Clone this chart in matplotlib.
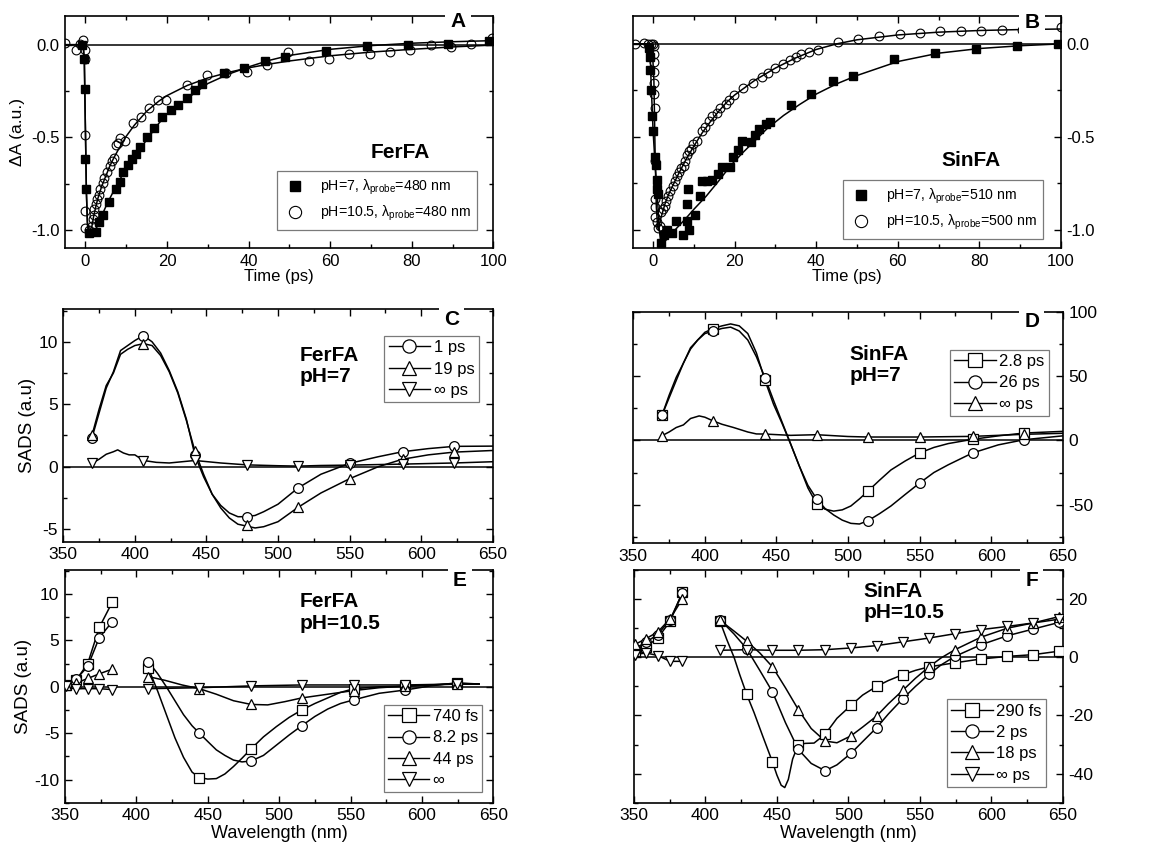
import matplotlib
matplotlib.use("Agg")
import matplotlib.pyplot as plt
from matplotlib.lines import Line2D
from matplotlib.ticker import MultipleLocator, FormatStrFormatter

plt.rcParams['font.family'] = ['Liberation Sans', 'DejaVu Sans']
plt.rcParams['mathtext.fontset'] = 'custom'
plt.rcParams['mathtext.rm'] = 'Liberation Sans'
plt.rcParams['mathtext.it'] = 'Liberation Sans:italic'
plt.rcParams['axes.unicode_minus'] = False

# ---------------- Panel A data (FerFA kinetics) ----------------
tA7 = [-0.8, -0.3, -0.15, 0.0, 0.1, 1.0, 2.6, 3.4, 4.4, 5.9, 7.4, 8.4, 9.3, 10.4, 11.5, 12.4, 13.4,
       15.0, 16.9, 18.9, 20.9, 22.8, 24.8, 26.8, 28.7, 34.0, 38.9, 44.0, 49.0, 59.0, 69.0, 79.0, 89.0, 99.0]
yA7 = [0.0, -0.08, -0.24, -0.62, -0.78, -1.02, -1.01, -0.96, -0.92, -0.85, -0.78, -0.74, -0.69, -0.65,
       -0.62, -0.59, -0.555, -0.50, -0.45, -0.39, -0.355, -0.325, -0.29, -0.245, -0.215, -0.155, -0.125,
       -0.09, -0.065, -0.035, -0.005, 0.0, 0.005, 0.02]
tA10 = [-5.0, -2.4, -1.3, -0.6, -0.1, 0.0, 0.0, 0.0, 0.0, 0.9, 1.6, 1.8, 2.0, 2.2, 2.6, 2.9, 3.3, 3.6,
        4.2, 4.6, 5.3, 6.0, 6.4, 7.0, 7.5, 8.0, 8.6, 9.7, 11.7, 13.7, 15.6, 17.8, 19.8, 24.8, 29.7,
        34.5, 39.7, 44.6, 49.7, 54.7, 59.7, 64.6, 69.7, 74.6, 79.7, 84.7, 89.7, 94.6, 99.6]
yA10 = [0.01, -0.027, 0.005, 0.023, -0.03, -0.075, -0.49, -0.90, -0.99, -1.0, -0.98, -0.94, -0.92,
        -0.89, -0.86, -0.835, -0.81, -0.78, -0.745, -0.72, -0.69, -0.655, -0.63, -0.61, -0.54, -0.53,
        -0.505, -0.52, -0.425, -0.39, -0.34, -0.30, -0.30, -0.22, -0.165, -0.153, -0.145, -0.11, -0.04,
        -0.09, -0.08, -0.052, -0.052, -0.04, -0.027, -0.004, -0.013, 0.005, 0.038]
tA7_fit = [-5, -1, -0.5, -0.25, 0, 0.25, 0.5, 0.8, 1.2, 2, 3, 4, 5, 6, 8, 10, 12, 15, 18, 20, 25, 30,
           35, 40, 45, 50, 60, 70, 80, 90, 100]
yA7_fit = [0, 0, -0.01, -0.1, -0.45, -0.8, -0.97, -1.03, -1.035, -1.02, -0.975, -0.925, -0.875, -0.83,
           -0.745, -0.67, -0.605, -0.515, -0.425, -0.375, -0.29, -0.21, -0.16, -0.12, -0.085, -0.058,
           -0.025, -0.005, 0.008, 0.016, 0.022]
tA10_fit = [-5, -1, -0.5, -0.25, 0, 0.25, 0.5, 0.8, 1.2, 1.6, 2, 2.5, 3, 4, 5, 6, 7, 8, 10, 12, 15, 18,
            20, 25, 30, 35, 40, 45, 50, 60, 70, 80, 90, 100]
yA10_fit = [0, 0, -0.01, -0.1, -0.45, -0.8, -0.96, -1.0, -1.0, -0.98, -0.93, -0.88, -0.835, -0.765,
            -0.71, -0.655, -0.61, -0.57, -0.495, -0.435, -0.36, -0.305, -0.275, -0.22, -0.18, -0.15,
            -0.125, -0.105, -0.088, -0.06, -0.04, -0.025, -0.012, -0.002]

# ---------------- Panel B data (SinFA kinetics) ----------------
tB7 = [-0.9, -0.8, -0.75, -0.6, -0.2, 0.0, 0.4, 0.6, 0.85, 1.0, 1.3, 1.9, 2.6, 3.4, 4.7, 5.7, 7.4, 8.2,
       8.5, 8.4, 8.9, 10.2, 11.5, 11.9, 13.1, 14.5, 15.8, 17.0, 18.9, 19.7, 20.9, 21.9, 23.9, 25.0, 26.0,
       27.6, 28.7, 33.8, 38.7, 44.1, 49.1, 59.0, 69.0, 79.2, 89.2, 99.3]
yB7 = [-0.02, -0.07, -0.14, -0.25, -0.39, -0.47, -0.61, -0.65, -0.73, -0.78, -0.81, -1.07, -1.03, -1.0,
       -1.02, -0.955, -1.03, -0.86, -0.78, -0.955, -1.0, -0.92, -0.82, -0.74, -0.74, -0.73, -0.70, -0.66,
       -0.66, -0.61, -0.57, -0.52, -0.53, -0.49, -0.46, -0.43, -0.42, -0.33, -0.27, -0.20, -0.175, -0.08,
       -0.05, -0.027, -0.01, 0.0]
tB10 = [-4.5, -2.2, -1.2, -0.6, 0.0, 0.3, 0.3, 0.3, 0.3, 0.3, 0.3, 0.35, 0.4, 0.45, 0.5, 0.55, 1.0, 1.3,
        1.7, 2.0, 2.4, 2.8, 3.1, 3.7, 4.2, 5.0, 5.3, 5.9, 6.4, 6.8, 7.5, 7.9, 8.4, 8.9, 9.4, 9.9, 10.8,
        12.1, 12.8, 13.8, 14.5, 15.6, 16.5, 17.8, 18.7, 19.8, 22.0, 24.4, 26.6, 28.1, 29.9, 31.8, 33.6,
        35.0, 36.3, 38.3, 40.4, 45.3, 50.2, 55.3, 60.5, 65.4, 70.3, 75.4, 80.4, 85.5, 90.4, 100.0]
yB10 = [0.0, 0.005, 0.0, 0.0, 0.0, -0.01, -0.055, -0.10, -0.15, -0.21, -0.27, -0.345, -0.63, -0.835,
        -0.88, -0.93, -0.96, -0.99, -0.98, -0.905, -0.89, -0.87, -0.845, -0.82, -0.79, -0.765, -0.74,
        -0.71, -0.69, -0.67, -0.655, -0.63, -0.60, -0.575, -0.565, -0.54, -0.52, -0.47, -0.445, -0.415,
        -0.39, -0.37, -0.345, -0.325, -0.30, -0.275, -0.24, -0.21, -0.18, -0.155, -0.13, -0.11, -0.087,
        -0.07, -0.055, -0.045, -0.032, 0.009, 0.027, 0.04, 0.054, 0.059, 0.068, 0.071, 0.071, 0.075,
        0.075, 0.09]
tB7_fit = [-5, -0.8, -0.5, 0, 0.5, 1.0, 1.5, 2, 3, 5, 8, 10, 13, 16, 19, 22, 25, 28, 32, 36, 40, 45, 50,
           60, 70, 80, 90, 100]
yB7_fit = [0, 0, -0.2, -0.47, -0.65, -0.8, -1.0, -1.08, -1.06, -1.01, -0.94, -0.89, -0.82, -0.74, -0.655,
           -0.585, -0.52, -0.455, -0.385, -0.325, -0.27, -0.215, -0.17, -0.095, -0.05, -0.025, -0.01, 0.0]
tB10_fit = [-5, -0.5, -0.2, 0.2, 0.5, 0.8, 1.1, 1.3, 2, 3, 4, 5, 6, 8, 10, 12, 14, 16, 18, 20, 25, 30, 35,
            40, 45, 50, 60, 70, 80, 90, 100]
yB10_fit = [0, 0, -0.02, -0.2, -0.6, -0.88, -0.98, -1.0, -0.93, -0.855, -0.80, -0.755, -0.71, -0.625,
            -0.55, -0.48, -0.42, -0.365, -0.315, -0.275, -0.195, -0.13, -0.075, -0.03, 0.0, 0.022, 0.048,
            0.063, 0.072, 0.077, 0.08]

# ---------------- Panel C data (FerFA pH=7 SADS) ----------------
wlC_mk = [370, 406, 442, 478, 514, 550, 587, 623]
C1_mk = [2.3, 10.5, 0.9, -4.0, -1.7, 0.27, 1.2, 1.63]
C19_mk = [2.5, 9.85, 1.23, -4.7, -3.25, -0.96, 0.6, 1.17]
Cinf_mk = [0.27, 0.48, 0.5, 0.13, 0.05, 0.13, 0.21, 0.3]
wlC_ln = [370, 375, 380, 385, 390, 395, 400, 406, 412, 418, 424, 430, 436, 442, 448, 454, 460, 466, 472,
          478, 484, 490, 500, 514, 530, 550, 570, 587, 605, 623, 650]
C1_ln = [2.3, 4.3, 6.3, 7.6, 9.3, 9.7, 10.1, 10.5, 10.0, 9.1, 7.7, 6.0, 3.8, 0.9, -0.8, -2.2, -3.1, -3.7,
         -4.0, -4.0, -3.9, -3.6, -3.0, -1.7, -0.6, 0.27, 0.8, 1.2, 1.45, 1.63, 1.65]
C19_ln = [2.5, 4.6, 6.5, 7.5, 9.0, 9.4, 9.7, 9.85, 9.7, 8.9, 7.6, 5.9, 3.7, 1.23, -0.6, -2.2, -3.3, -4.1,
          -4.6, -4.75, -4.9, -4.8, -4.4, -3.25, -2.1, -0.96, 0.0, 0.6, 0.95, 1.17, 1.3]
wlCinf_ln = [370, 375, 380, 385, 388, 392, 396, 400, 406, 415, 424, 433, 442, 460, 478, 500, 514, 530,
             550, 587, 623, 650]
Cinf_ln = [0.27, 0.6, 1.0, 1.2, 1.35, 1.1, 0.95, 0.95, 0.5, 0.35, 0.3, 0.4, 0.5, 0.3, 0.15, 0.08, 0.05,
           0.1, 0.13, 0.21, 0.3, 0.4]

# ---------------- Panel D data (SinFA pH=7 SADS) ----------------
wlD_mk = [370, 406, 442, 478, 514, 550, 587, 623]
D28_mk = [19.4, 86.8, 46.6, -49.2, -39.4, -9.8, 0.8, 5.7]
D26_mk = [19.4, 85.0, 48.7, -45.3, -62.4, -33.2, -9.8, 0.5]
Dinf_mk = [3.6, 15.0, 4.9, 4.4, 2.6, 2.6, 3.1, 4.7]
wlD_ln = [370, 375, 380, 385, 390, 395, 400, 406, 412, 418, 424, 430, 436, 442, 448, 454, 460, 466, 472,
          478, 484, 490, 496, 502, 508, 514, 522, 530, 540, 550, 560, 570, 587, 605, 623, 650]
D28_ln = [19.4, 35, 49, 60, 72, 78, 84, 87, 89, 90.5, 89, 83, 68, 46.6, 28, 13, -3, -20, -37, -49.2,
          -53.5, -55, -54, -51, -45.5, -39.4, -31, -23, -16, -9.8, -5.5, -2.5, 0.8, 3.5, 5.7, 7.0]
D26_ln = [19.4, 33, 46.6, 60, 71, 78, 83, 85, 87, 88, 85, 78, 65, 48.7, 31, 14, -3, -20, -35, -45.3,
          -53, -58, -62, -64.5, -65, -62.4, -57, -51, -42, -33.2, -25, -19, -9.8, -3.5, 0.5, 3.5]
wlDinf_ln = [370, 375, 380, 385, 390, 396, 400, 406, 412, 420, 430, 436, 442, 460, 478, 500, 514, 550,
             587, 623, 650]
Dinf_ln = [3.6, 6.5, 10, 12, 17, 19, 18, 15, 12.5, 10, 6.5, 5, 4.9, 3.9, 4.4, 3, 2.6, 2.6, 3.1, 4.7, 5.5]

# ---------------- Panel E data (FerFA pH=10.5 SADS) ----------------
wlE_L = [350.7, 357.7, 365.9, 374.0, 383.0]
E740_L = [0.2, 0.7, 2.5, 6.4, 9.1]
E82_L = [0.2, 0.8, 2.2, 5.3, 7.0]
E44_L = [0.2, 0.4, 0.9, 1.4, 1.9]
Einf_L = [0.07, -0.2, -0.2, -0.2, -0.3]
wlE_R = [408.4, 444.1, 480.3, 515.8, 552.4, 588.1, 624.3]
E740_R = [2.0, -9.8, -6.7, -2.5, -0.2, 0.07, 0.36]
E82_R = [2.7, -5.0, -8.0, -4.2, -1.4, -0.35, 0.43]
E44_R = [1.1, -0.2, -1.9, -1.2, -0.4, 0.07, 0.29]
Einf_R = [-0.2, -0.1, 0.1, 0.2, 0.2, 0.2, 0.3]
wlE_ln = [408.4, 415, 421, 427, 433, 439, 444.1, 450, 456, 462, 468, 474, 480.3, 489, 498, 507, 515.8,
          525, 534, 543, 552.4, 570, 588.1, 606, 624.3, 640]
E740_ln = [2.0, -0.5, -3.0, -5.5, -7.6, -9.2, -9.8, -9.95, -9.9, -9.4, -8.6, -7.7, -6.7, -5.4, -4.3,
           -3.3, -2.5, -1.8, -1.2, -0.6, -0.2, 0.0, 0.07, 0.2, 0.36, 0.3]
E82_ln = [2.7, 1.4, 0.0, -1.5, -3.0, -4.2, -5.0, -5.9, -6.8, -7.4, -7.9, -8.1, -8.0, -7.4, -6.3, -5.2,
          -4.2, -3.2, -2.4, -1.8, -1.4, -0.7, -0.35, 0.1, 0.43, 0.3]
wlE44_ln = [408.4, 420, 432, 444.1, 456, 468, 480.3, 492, 504, 515.8, 534, 552.4, 570, 588.1, 606, 624.3,
            640]
E44_ln = [1.1, 0.7, 0.2, -0.2, -0.8, -1.5, -1.9, -1.95, -1.6, -1.2, -0.8, -0.4, -0.1, 0.07, 0.2, 0.29,
          0.3]
wlEinf_ln = [408.4, 426, 444.1, 462, 480.3, 515.8, 552.4, 588.1, 624.3, 640]
Einf_ln = [-0.2, -0.15, -0.1, 0.0, 0.1, 0.2, 0.2, 0.2, 0.3, 0.3]

# ---------------- Panel F data (SinFA pH=10.5 SADS) ----------------
wlF_L = [350.7, 358.4, 366.6, 375.2, 383.8]
F290_L = [2.0, 3.6, 6.6, 12.3, 22.3]
F2_L = [3.0, 5.2, 7.8, 12.9, 22.0]
F18_L = [4.4, 6.4, 8.7, 13.2, 20.0]
Finf_L = [0.9, 1.5, 0.6, -1.4, -1.4]
wlF_R = [410.2, 428.9, 446.9, 465.0, 483.7, 501.9, 519.8, 538.0, 556.4, 574.6, 592.8, 611.3, 629.4, 647.6]
F290_R = [12.3, -12.8, -36.0, -30.0, -26.5, -16.5, -10.0, -6.0, -3.3, -1.9, -0.6, 0.3, 0.9, 2.1]
F2_R = [12.9, 2.9, -11.9, -31.7, -39.0, -33.0, -24.2, -14.3, -5.9, 0.3, 4.3, 7.4, 9.7, 12.0]
F18_R = [12.7, 5.5, -3.3, -18.0, -28.8, -27.0, -20.2, -11.4, -3.3, 2.6, 6.9, 10.0, 11.8, 14.0]
Finf_R = [2.4, 2.6, 2.4, 2.4, 2.6, 3.2, 4.0, 5.3, 6.6, 8.1, 9.5, 10.6, 11.8, 13.1]
wlF290_ln = [410.2, 415, 420, 424, 428.9, 434, 440, 446.9, 450, 453, 455.5, 458, 461, 465.0, 470, 476,
             483.7, 492, 501.9, 510, 519.8, 528, 538.0, 547, 556.4, 574.6, 592.8, 611.3, 629.4, 647.6, 650]
F290_ln = [12.3, 6, 0, -6, -12.8, -19, -27, -36.0, -40.5, -44, -44.8, -42, -35, -30.0, -29.6, -29.5,
           -26.5, -21, -16.5, -13, -10.0, -8, -6.0, -4.5, -3.3, -1.9, -0.6, 0.3, 0.9, 2.1, 2.2]
wlF_ln = [410.2, 420, 428.9, 438, 446.9, 456, 465.0, 474, 483.7, 492, 501.9, 510, 519.8, 528, 538.0, 547,
          556.4, 565, 574.6, 592.8, 611.3, 629.4, 647.6, 650]
F2_ln = [12.9, 8.0, 2.9, -4.5, -11.9, -22.5, -31.7, -36.5, -39.0, -37.0, -33.0, -29.0, -24.2, -19.5,
         -14.3, -10, -5.9, -2.6, 0.3, 4.3, 7.4, 9.7, 12.0, 11.8]
F18_ln = [12.7, 9, 5.5, 1.5, -3.3, -10.5, -18.0, -24.5, -28.8, -29.4, -27.0, -24, -20.2, -16, -11.4,
          -7.2, -3.3, -0.2, 2.6, 6.9, 10.0, 11.8, 14.0, 13.8]

# ================= figure =================
W, H = 1151, 848
fig = plt.figure(figsize=(W / 100, H / 100), dpi=100)


def rect(l, t, r, b):
    return [l / W, 1 - b / H, (r - l) / W, (b - t) / H]


axA = fig.add_axes(rect(65, 16, 493.3, 248.3))
axB = fig.add_axes(rect(632.7, 16, 1061, 248.3))
axC = fig.add_axes(rect(63.3, 309.3, 492.7, 541.7))
axD = fig.add_axes(rect(633.3, 311.7, 1062.7, 543.3))
axE = fig.add_axes(rect(65, 570, 493.3, 802.7))
axF = fig.add_axes(rect(634, 570, 1062.7, 802.7))


def style(ax, right=False, tfs=12):
    for s in ax.spines.values():
        s.set_linewidth(1.2)
    ax.tick_params(which='both', direction='in', top=True, right=True, labelsize=tfs, width=1, pad=4)
    ax.tick_params(which='major', length=5)
    ax.tick_params(which='minor', length=3)
    if right:
        ax.yaxis.tick_right()
        ax.tick_params(which='both', left=True, right=True, labelleft=False, labelright=True)
    ax.axhline(0, color='k', lw=1.1, zorder=1)


def letter(ax, s, x, y):
    ax.text(x, y, s, transform=ax.transAxes, fontsize=15, fontweight='bold', ha='center', va='center',
            zorder=20, clip_on=False,
            bbox=dict(facecolor='white', edgecolor='none', boxstyle='square,pad=0.25'))


MS_SQ = 5.2
MS_CI = 6.3
TITLE_FS = 15

# ---------- A ----------
axA.plot(tA7_fit, yA7_fit, color='k', lw=1.1, zorder=2)
axA.plot(tA10_fit, yA10_fit, color='k', lw=1.1, zorder=2)
axA.plot(tA7, yA7, ls='none', marker='s', ms=MS_SQ, mfc='k', mec='k', zorder=3,
         label='pH=7, λ$_{\\rm probe}$=480 nm')
axA.plot(tA10, yA10, ls='none', marker='o', ms=MS_CI, mfc='none', mec='k', mew=0.8, zorder=3,
         label='pH=10.5, λ$_{\\rm probe}$=480 nm')
axA.set_xlim(-5, 100)
axA.set_ylim(-1.1, 0.155)
axA.xaxis.set_major_locator(MultipleLocator(20))
axA.xaxis.set_minor_locator(MultipleLocator(10))
axA.yaxis.set_major_locator(MultipleLocator(0.5))
axA.yaxis.set_minor_locator(MultipleLocator(0.25))
axA.yaxis.set_major_formatter(FormatStrFormatter('%.1f'))
style(axA)
axA.set_xlabel('Time (ps)', fontsize=12, labelpad=0)
axA.set_ylabel('ΔA (a.u.)', fontsize=12.5, labelpad=4)
axA.text(77.1, -0.585, 'FerFA', fontsize=TITLE_FS, fontweight='bold', ha='center', va='center')
legA = axA.legend(loc='lower right', bbox_to_anchor=(0.963, 0.079), fontsize=10.2, frameon=True,
                  fancybox=False, edgecolor='0.35', markerscale=1.4, handletextpad=1.0,
                  borderpad=0.5, labelspacing=0.45, handlelength=1.5, borderaxespad=0.0)
legA.get_frame().set_linewidth(0.9)
letter(axA, 'A', 0.918, 0.978)

# ---------- B ----------
axB.plot(tB7_fit, yB7_fit, color='k', lw=1.1, zorder=2)
axB.plot(tB10_fit, yB10_fit, color='k', lw=1.1, zorder=2)
axB.plot(tB7, yB7, ls='none', marker='s', ms=MS_SQ, mfc='k', mec='k', zorder=3,
         label='pH=7, λ$_{\\rm probe}$=510 nm')
axB.plot(tB10, yB10, ls='none', marker='o', ms=MS_CI, mfc='none', mec='k', mew=0.8, zorder=3,
         label='pH=10.5, λ$_{\\rm probe}$=500 nm')
axB.set_xlim(-5, 100)
axB.set_ylim(-1.1, 0.15)
axB.xaxis.set_major_locator(MultipleLocator(20))
axB.xaxis.set_minor_locator(MultipleLocator(10))
axB.yaxis.set_major_locator(MultipleLocator(0.5))
axB.yaxis.set_minor_locator(MultipleLocator(0.25))
axB.yaxis.set_major_formatter(FormatStrFormatter('%.1f'))
style(axB, right=True)
axB.set_xlabel('Time (ps)', fontsize=12, labelpad=0)
axB.text(77.9, -0.625, 'SinFA', fontsize=TITLE_FS, fontweight='bold', ha='center', va='center')
legB = axB.legend(loc='lower right', bbox_to_anchor=(0.959, 0.040), fontsize=10.2, frameon=True,
                  fancybox=False, edgecolor='0.35', markerscale=1.4, handletextpad=1.0,
                  borderpad=0.5, labelspacing=0.45, handlelength=1.5, borderaxespad=0.0)
legB.get_frame().set_linewidth(0.9)
letter(axB, 'B', 0.932, 0.972)

# ---------- helpers for SADS panels ----------
MK_MS = 7
LEG_MS = 9.5


def mk(ax, x, y, m):
    ax.plot(x, y, ls='none', marker=m, ms=MK_MS, mfc='white', mec='k', mew=0.9, zorder=4)


def ln(ax, x, y, lw=1.1):
    ax.plot(x, y, color='k', lw=lw, zorder=3)


def sads_legend(ax, items, anchor):
    handles = [Line2D([], [], color='k', lw=1.0, marker=m, ms=LEG_MS, mfc='white', mec='k', mew=0.9)
               for m, _ in items]
    leg = ax.legend(handles, [t for _, t in items], loc='upper right', bbox_to_anchor=anchor,
                    fontsize=12, frameon=True, fancybox=False, edgecolor='0.35', handlelength=2.5,
                    handletextpad=0.2, borderpad=0.25, labelspacing=0.38, borderaxespad=0.0)
    leg.get_frame().set_linewidth(0.9)
    leg.set_zorder(10)


def sads_axes(ax, right, ylim, major, minor, xlabel):
    ax.set_xlim(350, 650)
    ax.set_ylim(*ylim)
    ax.xaxis.set_major_locator(MultipleLocator(50))
    ax.xaxis.set_minor_locator(MultipleLocator(25))
    ax.yaxis.set_major_locator(MultipleLocator(major))
    ax.yaxis.set_minor_locator(MultipleLocator(minor))
    style(ax, right=right, tfs=12.5)
    if xlabel:
        ax.set_xlabel('Wavelength (nm)', fontsize=13, labelpad=1)


# ---------- C ----------
ln(axC, wlC_ln, C1_ln)
ln(axC, wlC_ln, C19_ln)
ln(axC, wlCinf_ln, Cinf_ln)
mk(axC, wlC_mk, C1_mk, 'o')
mk(axC, wlC_mk, C19_mk, '^')
mk(axC, wlC_mk, Cinf_mk, 'v')
sads_axes(axC, False, (-6, 12.6), 5, 2.5, False)
axC.set_ylabel('SADS (a.u)', fontsize=13.5, labelpad=2)
axC.text(515, 9.7, 'FerFA\npH=7', fontsize=TITLE_FS, fontweight='bold', ha='left', va='top',
         linespacing=1.15)
sads_legend(axC, [('o', '1 ps'), ('^', '19 ps'), ('v', '∞ ps')], (0.967, 0.885))
letter(axC, 'C', 0.904, 0.955)

# ---------- D ----------
ln(axD, wlD_ln, D28_ln)
ln(axD, wlD_ln, D26_ln)
ln(axD, wlDinf_ln, Dinf_ln)
mk(axD, wlD_mk, D28_mk, 's')
mk(axD, wlD_mk, D26_mk, 'o')
mk(axD, wlD_mk, Dinf_mk, '^')
sads_axes(axD, True, (-80, 100), 50, 25, False)
axD.text(501, 74, 'SinFA\npH=7', fontsize=TITLE_FS, fontweight='bold', ha='left', va='top',
         linespacing=1.15)
sads_legend(axD, [('s', '2.8 ps'), ('o', '26 ps'), ('^', '∞ ps')], (0.967, 0.835))
letter(axD, 'D', 0.928, 0.958)

# ---------- E ----------
ln(axE, wlE_L, E740_L)
ln(axE, wlE_L, E82_L)
ln(axE, wlE_L, E44_L)
ln(axE, wlE_L, Einf_L)
ln(axE, wlE_ln, E740_ln)
ln(axE, wlE_ln, E82_ln)
ln(axE, wlE44_ln, E44_ln)
ln(axE, wlEinf_ln, Einf_ln)
for xs, ys, m in [(wlE_L, E740_L, 's'), (wlE_L, E82_L, 'o'), (wlE_L, E44_L, '^'), (wlE_L, Einf_L, 'v'),
                  (wlE_R, E740_R, 's'), (wlE_R, E82_R, 'o'), (wlE_R, E44_R, '^'), (wlE_R, Einf_R, 'v')]:
    mk(axE, xs, ys, m)
sads_axes(axE, False, (-12.5, 12.6), 5, 2.5, True)
axE.set_ylabel('SADS (a.u)', fontsize=13.5, labelpad=2)
axE.text(514.5, 10.2, 'FerFA\npH=10.5', fontsize=TITLE_FS, fontweight='bold', ha='left', va='top',
         linespacing=1.15)
sads_legend(axE, [('s', '740 fs'), ('o', '8.2 ps'), ('^', '44 ps'), ('v', '∞')], (0.974, 0.42))
letter(axE, 'E', 0.922, 0.955)

# ---------- F ----------
ln(axF, wlF_L, F290_L)
ln(axF, wlF_L, F2_L)
ln(axF, wlF_L, F18_L)
ln(axF, wlF_L, Finf_L)
ln(axF, wlF290_ln, F290_ln)
ln(axF, wlF_ln, F2_ln)
ln(axF, wlF_ln, F18_ln)
ln(axF, wlF_R, Finf_R)
for xs, ys, m in [(wlF_L, F290_L, 's'), (wlF_L, F2_L, 'o'), (wlF_L, F18_L, '^'), (wlF_L, Finf_L, 'v'),
                  (wlF_R, F290_R, 's'), (wlF_R, F2_R, 'o'), (wlF_R, F18_R, '^'), (wlF_R, Finf_R, 'v')]:
    mk(axF, xs, ys, m)
sads_axes(axF, True, (-50, 30), 20, 10, True)
axF.text(510.5, 26.0, 'SinFA\npH=10.5', fontsize=TITLE_FS, fontweight='bold', ha='left', va='top',
         linespacing=1.15)
sads_legend(axF, [('s', '290 fs'), ('o', '2 ps'), ('^', '18 ps'), ('v', '∞ ps')], (0.961, 0.444))
letter(axF, 'F', 0.928, 0.955)

fig.savefig('out.png', dpi=100)
